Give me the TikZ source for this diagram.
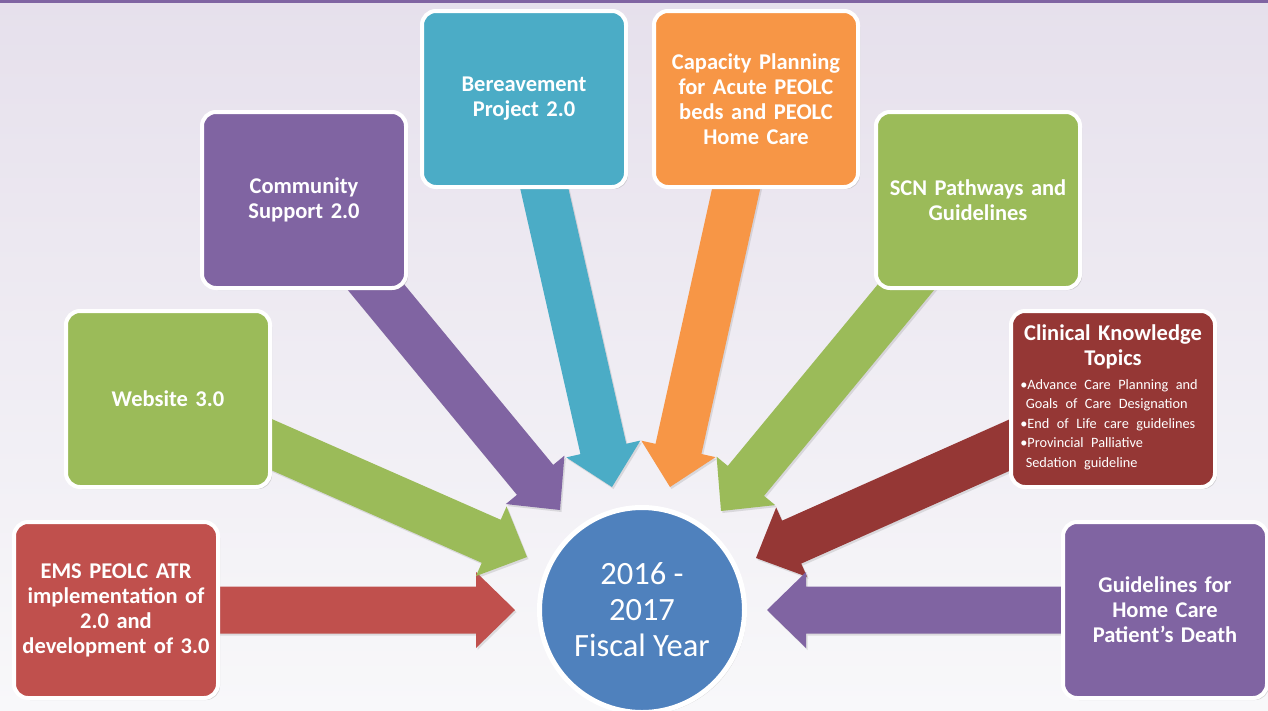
\documentclass[tikz,border=0pt]{standalone}
\usepackage{fontspec}
\setmainfont{Carlito}
\usetikzlibrary{calc,shadows,backgrounds}

\definecolor{emsred}{HTML}{C0504D}
\definecolor{leafgreen}{HTML}{9BBB59}
\definecolor{planpurple}{HTML}{8064A2}
\definecolor{planteal}{HTML}{4BACC6}
\definecolor{planorange}{HTML}{F79646}
\definecolor{clinred}{HTML}{953735}
\definecolor{fyblue}{HTML}{4F81BD}
\definecolor{bgtop}{HTML}{E6E0EC}
\definecolor{bgbottom}{HTML}{F8F8FA}

\newcommand{\boxfont}{\fontsize{22.5}{25}\selectfont\bfseries}
\newcommand{\topicfont}{\fontsize{14.3}{19.5}\selectfont\mdseries}
\newcommand{\topicgap}{\hspace*{5.5pt}}

% fat block arrow from a box to a tip coordinate
\newcommand{\planarrow}[3]{%
    \fill[#1, arrowshade] let \p1=(#2), \p2=(#3),
        \n1={atan2(\y2-\y1,\x2-\x1)}, \n2={veclen(\x2-\x1,\y2-\y1)-39pt} in
        ($(\p1)+({\n1+90}:23.5pt)$)
        -- ($(\p1)+(\n1:\n2)+({\n1+90}:23.5pt)$)
        -- ($(\p1)+(\n1:\n2)+({\n1+90}:38pt)$)
        -- (\p2)
        -- ($(\p1)+(\n1:\n2)+({\n1-90}:38pt)$)
        -- ($(\p1)+(\n1:\n2)+({\n1-90}:23.5pt)$)
        -- ($(\p1)+({\n1-90}:23.5pt)$) -- cycle;}

\begin{document}
\begin{tikzpicture}
    [x=1pt, y=-1pt,
    arrowshade/.style={drop shadow={shadow xshift=1.5pt, shadow yshift=-2pt, opacity=.22}},
    planbox/.style={rounded corners=14pt, draw=white, line width=4pt,
        minimum width=204pt, minimum height=176pt, text width=200pt,
        inner sep=0pt, align=center, text=white, font=\boxfont,
        drop shadow={shadow xshift=2pt, shadow yshift=-2pt, opacity=.3}}]
    \useasboundingbox (0,0) rectangle (1268,710);

    % year circle and the eight projects
    \node (fy) [circle, fill=fyblue, draw=white, line width=5pt, minimum size=205pt,
        text=white, align=center, font=\fontsize{32.5}{36}\selectfont,
        drop shadow={shadow xshift=2pt, shadow yshift=-2pt, opacity=.3}]
        at (642,610) {2016 -\\2017\\Fiscal Year};

    \node (ems) [planbox, fill=emsred] at (116,610)
        {EMS PEOLC ATR\\implementation of\\2.0 and\\development of 3.0};
    \node (web) [planbox, fill=leafgreen] at (168,399) {Website 3.0};
    \node (comm) [planbox, fill=planpurple] at (304,200) {Community\\Support 2.0};
    \node (berv) [planbox, fill=planteal] at (524,99) {Bereavement\\Project 2.0};
    \node (cap) [planbox, fill=planorange] at (756,99)
        {Capacity Planning\\for Acute PEOLC\\beds and PEOLC\\Home Care};
    \node (scn) [planbox, fill=leafgreen] at (978,200) {SCN Pathways and\\Guidelines};
    \node (clin) [planbox, fill=clinred] at (1113,399)
        {Clinical Knowledge\\Topics\\[5pt]
        {\topicfont\hspace*{-8pt}\begin{tabular}{@{}l@{}}
            \textbullet Advance Care Planning and\\
            \topicgap Goals of Care Designation\\
            \textbullet End of Life care guidelines\\
            \textbullet Provincial Palliative\\
            \topicgap Sedation guideline
        \end{tabular}}};
    \node (guide) [planbox, fill=planpurple] at (1165,610)
        {Guidelines for\\Home Care\\Patient’s Death};

    \coordinate (emsTip) at (515,610);
    \coordinate (webTip) at (527,557);
    \coordinate (commTip) at (560,510);
    \coordinate (bervTip) at (612,487);
    \coordinate (capTip) at (670,487);
    \coordinate (scnTip) at (721,511);
    \coordinate (clinTip) at (756,558);
    \coordinate (guideTip) at (767,610);

    \begin{pgfonlayer}{background}
        \fill[top color=bgtop, bottom color=bgbottom] (0,0) rectangle (1268,710);
        \fill[planpurple] (0,0) rectangle (1268,2.5);
        \planarrow{emsred}{ems}{emsTip}
        \planarrow{leafgreen}{web}{webTip}
        \planarrow{planpurple}{comm}{commTip}
        \planarrow{planteal}{berv}{bervTip}
        \planarrow{planorange}{cap}{capTip}
        \planarrow{leafgreen}{scn}{scnTip}
        \planarrow{clinred}{clin}{clinTip}
        \planarrow{planpurple}{guide}{guideTip}
    \end{pgfonlayer}
\end{tikzpicture}
\end{document}
